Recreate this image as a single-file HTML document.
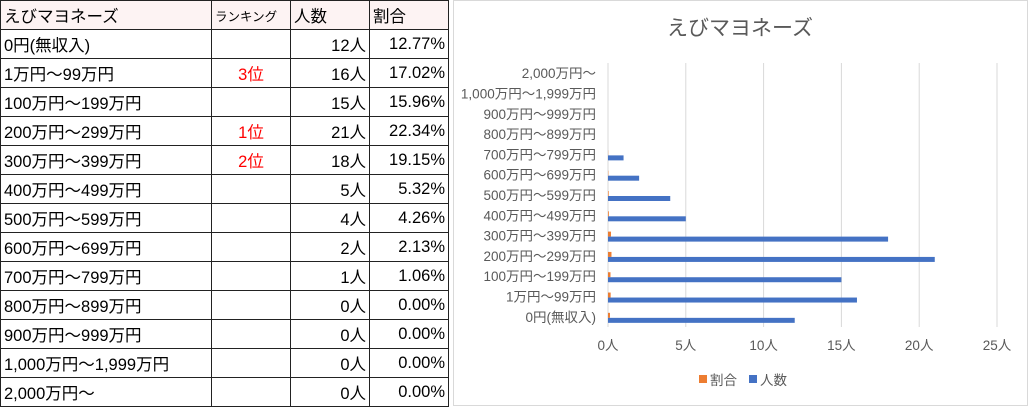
<!DOCTYPE html>
<html><head><meta charset="utf-8">
<style>
body{margin:0;width:1031px;height:411px;overflow:hidden;background:#fff;font-family:"Liberation Sans","Noto Sans CJK JP",sans-serif;position:relative}
table{position:absolute;left:0;top:0;border-collapse:collapse;font-size:16.5px;table-layout:fixed}
td{border:1px solid #222;height:29px;padding:0 3px;white-space:nowrap;box-sizing:border-box;overflow:hidden}
tr.h td{background:#fdf3f3}
.r{text-align:right}.c{text-align:center;color:#f00}
#chart{position:absolute;left:453px;top:0}
</style></head><body>
<table>
<colgroup><col style="width:211px"><col style="width:79px"><col style="width:79px"><col style="width:79px"></colgroup>
<tr class="h"><td>えびマヨネーズ</td><td style="font-size:12.5px">ランキング</td><td>人数</td><td>割合</td></tr>
<tr><td>0円(無収入)</td><td></td><td class="r">12人</td><td class="r">12.77%</td></tr>
<tr><td>1万円～99万円</td><td class="c">3位</td><td class="r">16人</td><td class="r">17.02%</td></tr>
<tr><td>100万円～199万円</td><td></td><td class="r">15人</td><td class="r">15.96%</td></tr>
<tr><td>200万円～299万円</td><td class="c">1位</td><td class="r">21人</td><td class="r">22.34%</td></tr>
<tr><td>300万円～399万円</td><td class="c">2位</td><td class="r">18人</td><td class="r">19.15%</td></tr>
<tr><td>400万円～499万円</td><td></td><td class="r">5人</td><td class="r">5.32%</td></tr>
<tr><td>500万円～599万円</td><td></td><td class="r">4人</td><td class="r">4.26%</td></tr>
<tr><td>600万円～699万円</td><td></td><td class="r">2人</td><td class="r">2.13%</td></tr>
<tr><td>700万円～799万円</td><td></td><td class="r">1人</td><td class="r">1.06%</td></tr>
<tr><td>800万円～899万円</td><td></td><td class="r">0人</td><td class="r">0.00%</td></tr>
<tr><td>900万円～999万円</td><td></td><td class="r">0人</td><td class="r">0.00%</td></tr>
<tr><td>1,000万円～1,999万円</td><td></td><td class="r">0人</td><td class="r">0.00%</td></tr>
<tr><td>2,000万円～</td><td></td><td class="r">0人</td><td class="r">0.00%</td></tr>
</table>
<svg id="chart" width="576" height="406"></svg>
<script>
const categories=["0円(無収入)","1万円～99万円","100万円～199万円","200万円～299万円","300万円～399万円","400万円～499万円","500万円～599万円","600万円～699万円","700万円～799万円","800万円～899万円","900万円～999万円","1,000万円～1,999万円","2,000万円～"];
const people=[12,16,15,21,18,5,4,2,1,0,0,0,0];
const ratio=[0.1277,0.1702,0.1596,0.2234,0.1915,0.0532,0.0426,0.0213,0.0106,0,0,0,0];
const ticks=[0,5,10,15,20,25];
const tickLabels=["0人","5人","10人","15人","20人","25人"];
const NS="http://www.w3.org/2000/svg",svg=document.getElementById('chart');
const X0=155,XW=389,XMAX=25,Y0=63,Y1=327;
const x=v=>X0+v/XMAX*XW;
const band=(Y1-Y0)/categories.length;
const yc=i=>Y1-(i+0.5)*band;
function mk(t,a,txt){const e=document.createElementNS(NS,t);for(const k in a)e.setAttribute(k,a[k]);if(txt!=null)e.textContent=txt;svg.appendChild(e);return e;}
const frame=mk('rect',{x:0.5,y:0.5,width:574,height:405,fill:'#fff',stroke:'#d9d9d9'});


const title=mk('text',{x:287,y:35,'text-anchor':'middle','font-size':21,fill:'#595959'},'えびマヨネーズ');


ticks.forEach((t,i)=>{
 const g=mk('line',{x1:x(t),x2:x(t),y1:Y0,y2:Y1,stroke:'#d9d9d9'});
 
 
 const l=mk('text',{x:x(t),y:350,'text-anchor':'middle','font-size':13.5,fill:'#595959'},tickLabels[i]);
 
 
});
categories.forEach((c,i)=>{
 const l=mk('text',{x:143,y:yc(i)+5,'text-anchor':'end','font-size':13.5,fill:'#595959'},c);
 
 
 if(ratio[i]>0){const o=mk('rect',{x:x(0),y:yc(i)-4,width:x(ratio[i])-x(0),height:5,fill:'#ed7d31'});
 
 }
 if(people[i]>0){const b=mk('rect',{x:x(0),y:yc(i)+1,width:x(people[i])-x(0),height:5,fill:'#4472c4'});
 
 }
});
const lo=mk('rect',{x:246,y:375,width:8,height:8,fill:'#ed7d31'});


const lot=mk('text',{x:257,y:385,'font-size':13.5,fill:'#595959'},'割合');


const lb=mk('rect',{x:296,y:375,width:8,height:8,fill:'#4472c4'});


const lbt=mk('text',{x:307,y:385,'font-size':13.5,fill:'#595959'},'人数');


</script>
</body></html>
